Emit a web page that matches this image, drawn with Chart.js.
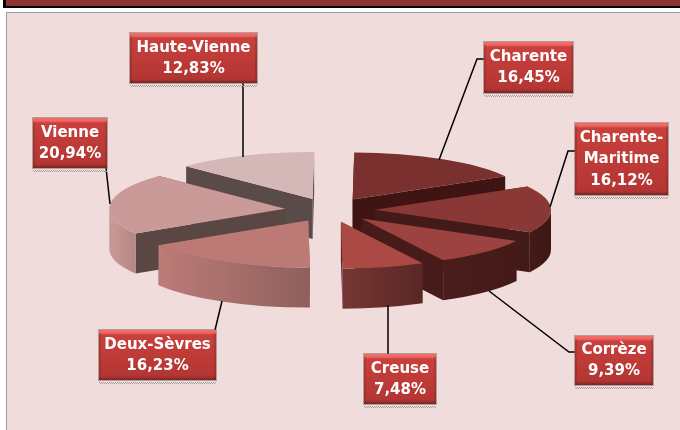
<!DOCTYPE html>
<html>
<head>
<meta charset="utf-8">
<script src="https://cdn.jsdelivr.net/npm/chart.js@4"></script>
<style>
    html, body { margin: 0; padding: 0; background: #fff; overflow: hidden; }
    #wrap { position: relative; width: 680px; height: 430px; overflow: hidden; }
    #bar { position: absolute; left: 3px; top: -4px; width: 700px; height: 10px; background: #8c3533; border-left: 3px solid #000; border-bottom: 2px solid #000; }
    #panel { position: absolute; left: 6px; top: 12px; width: 700px; height: 440px; background: #f0dcdb; border-left: 1px solid #9a9a9a; border-top: 1px solid #9a9a9a; }
    canvas { position: absolute; left: 0; top: 0; }
</style>
</head>
<body>
<div id="wrap">
    <div id="bar"></div>
    <div id="panel"></div>
    <canvas id="pie" width="680" height="430"></canvas>
</div>
<script>
const departements = ['Charente', 'Charente-Maritime', 'Corrèze', 'Creuse', 'Deux-Sèvres', 'Vienne', 'Haute-Vienne'];
const parts = [16.45, 16.12, 9.39, 7.48, 16.23, 20.94, 12.83];

// slice colours, same order as departements
const topColors = ['#7a302e', '#8a3836', '#9c4240', '#ab4a45', '#bb7a76', '#c99a97', '#d4b7b7'];
const cutColors = ['#3e1513', '#421a18', '#471b19', '#5a2725', '#8e5f5c', '#5a4744', '#5a4a48'];
const rimLeft = ['#3e1513', '#421a18', '#4a1d1b', '#763633', '#bd7c78', '#c99a97', '#d4b7b7'];
const rimRight = ['#3e1513', '#3e1715', '#441a18', '#5a2725', '#8e5f5c', '#b58683', '#d4b7b7'];

// look of the tilted, exploded pie
const centerX = 330, centerY = 210, radiusX = 176, radiusY = 47;
const explode = 45, thickness = 40;

// callout boxes and their leader lines
const boxes = [
    { x: 484, y: 42, w: 89, h: 51, text: ['Charente'], line: [[484, 59], [477, 59], [439, 160]] },
    { x: 575, y: 123, w: 93, h: 72, text: ['Charente-', 'Maritime'], line: [[575, 151], [568, 151], [550, 207]] },
    { x: 575, y: 336, w: 78, h: 49, text: ['Corrèze'], line: [[575, 352], [569, 352], [489, 291]] },
    { x: 364, y: 354, w: 72, h: 50, text: ['Creuse'], line: [[388, 354], [388, 305]] },
    { x: 99, y: 330, w: 117, h: 50, text: ['Deux-Sèvres'], line: [[215, 330], [222, 301]] },
    { x: 33, y: 118, w: 74, h: 50, text: ['Vienne'], line: [[106, 168], [110, 204]] },
    { x: 130, y: 33, w: 127, h: 50, text: ['Haute-Vienne'], line: [[243, 83], [243, 157]] }
];

function drawSlice(ctx, arc, i) {
    const a0 = arc.startAngle, a1 = arc.endAngle;
    const mid = (a0 + a1) / 2;
    const ax = centerX + explode * Math.cos(mid);
    const ay = centerY + explode * Math.sin(mid) * radiusY / radiusX;
    const px = a => ax + radiusX * Math.cos(a);
    const py = a => ay + radiusY * Math.sin(a);

    // the two cut faces
    ctx.fillStyle = cutColors[i];
    [a0, a1].forEach(a => {
        ctx.beginPath();
        ctx.moveTo(ax, ay);
        ctx.lineTo(px(a), py(a));
        ctx.lineTo(px(a), py(a) + thickness);
        ctx.lineTo(ax, ay + thickness);
        ctx.closePath();
        ctx.fill();
    });

    // rim, only the part that faces us (sin > 0)
    const from = Math.max(a0, 0), to = Math.min(a1, Math.PI);
    if (to > from) {
        const grad = ctx.createLinearGradient(Math.min(px(from), px(to)), 0, Math.max(px(from), px(to)), 0);
        grad.addColorStop(0, rimLeft[i]);
        grad.addColorStop(1, rimRight[i]);
        ctx.fillStyle = grad;
        ctx.beginPath();
        ctx.ellipse(ax, ay, radiusX, radiusY, 0, from, to);
        ctx.lineTo(px(to), py(to) + thickness);
        ctx.ellipse(ax, ay + thickness, radiusX, radiusY, 0, to, from, true);
        ctx.closePath();
        ctx.fill();
    }

    // top face is the library's own arc, squashed onto the ellipse
    ctx.save();
    ctx.translate(ax, ay);
    ctx.scale(radiusX / arc.outerRadius, radiusY / arc.outerRadius);
    ctx.translate(-arc.x, -arc.y);
    arc.draw(ctx);
    ctx.restore();
}

function drawBox(ctx, b, value) {
    // stippled shadow
    ctx.save();
    ctx.setLineDash([1, 1]);
    ctx.lineWidth = 1;
    ctx.strokeStyle = '#6b6464';
    ctx.strokeRect(b.x - 0.5, b.y - 0.5, b.w + 1, b.h + 1);
    ctx.strokeStyle = '#a89e9e';
    ctx.beginPath();
    ctx.moveTo(b.x, b.y + b.h + 2.5);
    ctx.lineTo(b.x + b.w, b.y + b.h + 2.5);
    ctx.moveTo(b.x + 1, b.y + b.h + 3.5);
    ctx.lineTo(b.x + b.w, b.y + b.h + 3.5);
    ctx.stroke();
    ctx.restore();

    const grad = ctx.createLinearGradient(0, b.y, 0, b.y + b.h);
    const k = 1 / b.h;
    grad.addColorStop(0, '#f26e6a');
    grad.addColorStop(3 * k, '#ee6460');
    grad.addColorStop(5 * k, '#c8403c');
    grad.addColorStop(1 - 5 * k, '#b43633');
    grad.addColorStop(1 - 3 * k, '#a83230');
    grad.addColorStop(1, '#742422');
    ctx.fillStyle = grad;
    ctx.fillRect(b.x, b.y, b.w, b.h);
    // bevel on the sides
    ctx.fillStyle = 'rgba(90,20,20,0.2)';
    ctx.fillRect(b.x, b.y + 3, 2, b.h - 3);
    ctx.fillRect(b.x + b.w - 2, b.y + 3, 2, b.h - 3);

    const lines = b.text.concat(value.toFixed(2).replace('.', ',') + '%');
    ctx.fillStyle = '#fff';
    ctx.font = 'bold 15px "DejaVu Sans"';
    ctx.textAlign = 'center';
    ctx.textBaseline = 'middle';
    const cx = b.x + b.w / 2, cy = b.y + b.h / 2;
    lines.forEach((txt, n) => {
        ctx.fillText(txt, cx, cy + (n - (lines.length - 1) / 2) * 21.2 + 0.5);
    });
}

const pie3d = {
    id: 'pie3d',
    beforeDatasetDraw(chart) {
        const ctx = chart.ctx;
        const arcs = chart.getDatasetMeta(0).data;
        // back to front, like the depth of each exploded slice
        const order = arcs.map((arc, i) => i).sort((a, b) => {
            const s = arc => Math.sin((arc.startAngle + arc.endAngle) / 2);
            return s(arcs[a]) - s(arcs[b]);
        });
        order.forEach(i => drawSlice(ctx, arcs[i], i));
        return false;
    },
    afterDraw(chart) {
        const ctx = chart.ctx;
        ctx.save();
        ctx.strokeStyle = '#000';
        ctx.lineWidth = 1.5;
        boxes.forEach(b => {
            ctx.beginPath();
            b.line.forEach((p, n) => n ? ctx.lineTo(p[0], p[1]) : ctx.moveTo(p[0], p[1]));
            ctx.stroke();
        });
        boxes.forEach((b, i) => drawBox(ctx, b, parts[i]));
        ctx.restore();
    }
};

new Chart(document.getElementById('pie'), {
    type: 'pie',
    plugins: [pie3d],
    data: {
        labels: departements,
        datasets: [{
            data: parts,
            backgroundColor: topColors,
            borderWidth: 0
        }]
    },
    options: {
        responsive: false,
        animation: false,
        rotation: 0.5,
        plugins: {
            legend: { display: false },
            tooltip: { enabled: false }
        }
    }
});
</script>
</body>
</html>
